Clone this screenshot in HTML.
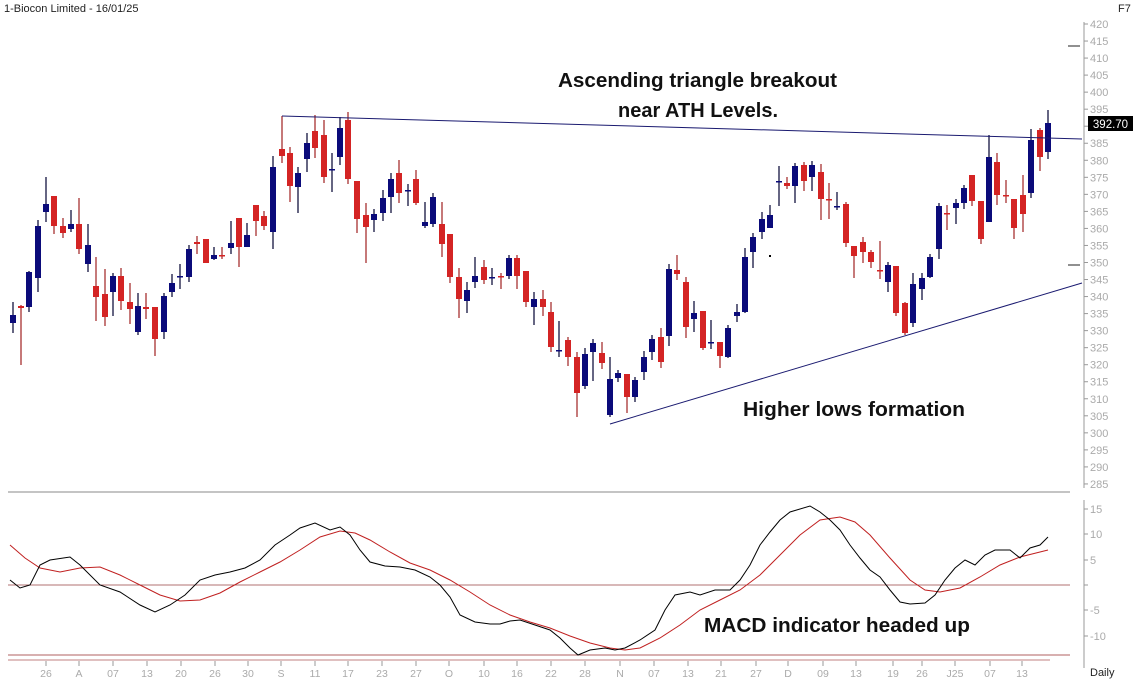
<!DOCTYPE html>
<html><head><meta charset="utf-8"><style>
html,body{margin:0;padding:0;background:#fff;width:1136px;height:680px;overflow:hidden}
svg{display:block}
text{font-family:"Liberation Sans",sans-serif}
</style></head><body>
<svg id="s" width="1136" height="680" viewBox="0 0 1136 680" xmlns="http://www.w3.org/2000/svg">
<rect width="1136" height="680" fill="#fff"/>
<text x="4" y="12" font-size="11" fill="#222">1-Biocon Limited - 16/01/25</text>
<text x="1118" y="12" font-size="11" fill="#222">F7</text>
<g id="axis"></g>
<g id="candles"></g>
<line x1="282" y1="116" x2="1082" y2="139" stroke="#1a1a70" stroke-width="1"/>
<line x1="610" y1="424" x2="1082" y2="283" stroke="#1a1a70" stroke-width="1"/>
<line x1="1068" y1="46" x2="1080" y2="46" stroke="#222"/>
<line x1="1068" y1="265" x2="1080" y2="265" stroke="#222"/>
<rect x="1088" y="116" width="45" height="15" fill="#000"/>
<text x="1110.5" y="128" font-size="11.5" fill="#fff" text-anchor="middle">392.70</text>
<line x1="8" y1="492" x2="1070" y2="492" stroke="#888" stroke-width="1"/>
<line x1="8" y1="585" x2="1070" y2="585" stroke="#b07070" stroke-width="1"/>
<line x1="8" y1="655" x2="1070" y2="655" stroke="#b06060" stroke-width="1"/>
<line x1="8" y1="660" x2="1050" y2="660" stroke="#c08080" stroke-width="1"/>
<polyline id="sig" fill="none" stroke="#c02020" stroke-width="1"/>
<polyline id="macd" fill="none" stroke="#000" stroke-width="1"/>
<text x="558" y="87" font-size="20" font-weight="bold" fill="#111" textLength="279" lengthAdjust="spacingAndGlyphs">Ascending triangle breakout</text>
<text x="618" y="117" font-size="20" font-weight="bold" fill="#111" textLength="160" lengthAdjust="spacingAndGlyphs">near ATH Levels.</text>
<text x="743" y="416" font-size="20" font-weight="bold" fill="#111" textLength="222" lengthAdjust="spacingAndGlyphs">Higher lows formation</text>
<text x="704" y="632" font-size="20" font-weight="bold" fill="#111" textLength="266" lengthAdjust="spacingAndGlyphs">MACD indicator headed up</text>
<text x="1090" y="676" font-size="11" fill="#222">Daily</text>
</svg>
<script>
var NS="http://www.w3.org/2000/svg";
function el(p,t,a){var e=document.createElementNS(NS,t);for(var k in a)e.setAttribute(k,a[k]);p.appendChild(e);return e;}
var ax=document.getElementById('axis');
el(ax,'line',{x1:1084,y1:22,x2:1084,y2:488,stroke:'#999'});
el(ax,'line',{x1:1084,y1:500,x2:1084,y2:668,stroke:'#999'});
for(var p=420;p>=285;p-=5){var y=24+(420-p)*3.407;el(ax,'line',{x1:1084,y1:y,x2:1088,y2:y,stroke:'#999'});
 var t=el(ax,'text',{x:1090,y:y+4,'font-size':11,fill:'#aaa'});t.textContent=p;}
var mv=[[15,509],[10,534],[5,560],[0,585],[-5,610],[-10,636]];
mv.forEach(function(m){el(ax,'line',{x1:1084,y1:m[1],x2:1088,y2:m[1],stroke:'#999'});
 if(m[0]!==0){var t=el(ax,'text',{x:1090,y:m[1]+4,'font-size':11,fill:'#aaa'});t.textContent=m[0];}});
var xl=[[46,'26'],[79,'A'],[113,'07'],[147,'13'],[181,'20'],[215,'26'],[248,'30'],[281,'S'],[315,'11'],[348,'17'],[382,'23'],[416,'27'],[449,'O'],[484,'10'],[517,'16'],[551,'22'],[585,'28'],[620,'N'],[654,'07'],[688,'13'],[721,'21'],[756,'27'],[788,'D'],[823,'09'],[856,'13'],[893,'19'],[922,'26'],[955,'J25'],[990,'07'],[1022,'13']];
xl.forEach(function(l){el(ax,'line',{x1:l[0],y1:661,x2:l[0],y2:666,stroke:'#999'});
 var t=el(ax,'text',{x:l[0],y:677,'font-size':10.5,fill:'#aaa','text-anchor':'middle'});t.textContent=l[1];});
// x, bodyTop, bodyBot, wickTop, wickBot, color(b/r)
var C=[[13,315,323,302,333,'b'],[21,306,308,305,365,'r'],[29,272,307,271,312,'b'],[38,226,278,220,292,'b'],[46,204,212,177,222,'b'],[54,196,226,196,234,'r'],[63,226,233,218,238,'r'],[71,224,229,210,232,'b'],[79,224,249,198,254,'r'],[88,245,264,224,272,'b'],[96,286,297,257,321,'r'],[105,294,317,269,326,'r'],[113,276,292,273,316,'b'],[121,276,301,268,310,'r'],[130,302,309,283,324,'r'],[138,306,332,293,335,'b'],[146,307,309,293,319,'r'],[155,307,339,307,356,'r'],[164,296,332,293,339,'b'],[172,283,292,274,297,'b'],[180,276,277,264,289,'b'],[189,249,277,245,282,'b'],[197,242,244,236,254,'r'],[206,239,263,239,263,'r'],[214,255,259,247,260,'b'],[222,255,256,247,259,'r'],[231,243,248,221,254,'b'],[239,218,247,218,267,'r'],[247,235,247,223,247,'b'],[256,205,221,205,236,'r'],[264,216,226,211,230,'r'],[273,167,232,156,249,'b'],[282,149,156,116,163,'r'],[290,153,186,147,202,'r'],[298,173,187,167,213,'b'],[307,143,159,133,172,'b'],[315,131,148,115,158,'r'],[324,135,177,120,183,'r'],[332,169,170,153,192,'b'],[340,128,157,117,165,'b'],[348,120,179,112,184,'r'],[357,181,219,181,233,'r'],[366,215,227,203,263,'r'],[374,214,220,209,232,'b'],
[383,198,213,190,221,'b'],[391,179,197,173,213,'b'],[399,173,193,160,203,'r'],[408,190,191,184,206,'b'],[416,179,203,170,205,'r'],[425,222,226,202,228,'b'],[433,197,224,193,227,'b'],[442,224,244,202,257,'r'],[450,234,277,234,283,'r'],[459,277,299,268,318,'r'],[467,290,301,282,313,'b'],[475,276,282,257,288,'b'],[484,267,280,260,284,'r'],[492,277,278,268,285,'b'],[501,276,277,273,289,'r'],[509,258,276,255,279,'b'],[517,258,276,255,289,'r'],[526,271,302,271,307,'r'],[534,299,307,292,325,'b'],[543,299,307,290,316,'r'],[551,312,347,302,352,'r'],[559,350,351,321,357,'b'],[568,340,357,337,366,'r'],[577,357,393,352,417,'r'],[585,354,386,348,389,'b'],[593,343,352,339,381,'b'],[602,353,363,342,369,'r'],[610,379,415,357,417,'b'],[618,373,378,370,382,'b'],[627,374,397,374,413,'r'],[635,380,397,377,402,'b'],[644,357,372,351,380,'b'],[652,339,352,335,360,'b'],[661,337,362,328,368,'r'],[669,269,336,264,346,'b'],[677,270,274,255,280,'r'],[686,282,327,277,338,'r'],[694,313,319,301,332,'b'],[703,311,348,311,350,'r'],[711,342,343,320,349,'b'],[720,342,356,342,368,'r'],[728,328,357,325,358,'b'],[737,312,316,304,322,'b'],[745,257,312,248,313,'b'],
[753,237,252,233,268,'b'],[762,219,232,212,239,'b'],[770,215,228,205,228,'b'],[779,181,182,166,206,'b'],[787,183,186,177,189,'r'],[795,166,186,163,203,'b'],[804,165,181,162,191,'r'],[812,165,177,161,191,'b'],[821,172,199,164,220,'r'],[829,199,200,183,219,'r'],[837,206,207,192,210,'b'],[846,204,243,202,247,'r'],[854,246,256,246,278,'r'],[863,242,252,237,263,'r'],[871,252,262,250,268,'r'],[880,270,271,241,279,'r'],[888,265,282,262,292,'b'],[896,266,313,266,316,'r'],[905,303,333,302,335,'r'],[913,284,323,273,327,'b'],[922,278,289,273,300,'b'],[930,257,277,254,278,'b'],[939,206,249,203,259,'b'],[947,213,214,205,230,'r'],[956,203,208,199,224,'b'],[964,188,203,185,209,'b'],[972,175,201,175,206,'r'],[981,201,239,201,244,'r'],[989,157,222,135,222,'b'],[997,162,195,153,205,'r'],[1006,195,196,180,203,'r'],[1014,199,228,199,239,'r'],[1023,195,214,175,232,'r'],[1031,140,193,129,198,'b'],[1040,130,157,128,171,'r'],[1048,123,152,110,159,'b']];
var cg=document.getElementById('candles');
C.forEach(function(c){var col=c[5]=='b'?'#0b0b7a':'#d42424';var wc=c[5]=='b'?'#000030':'#a02020';
 el(cg,'line',{x1:c[0],y1:c[3],x2:c[0],y2:c[4],stroke:wc,'stroke-width':1.2});
 var h=Math.max(1.5,c[2]-c[1]);
 el(cg,'rect',{x:c[0]-3,y:c[1],width:6,height:h,fill:col});});
el(cg,'rect',{x:769,y:255,width:2,height:2,fill:'#000'});
var macd=[[10,580],[20,588],[30,585],[40,565],[50,560],[70,557],[80,565],[100,585],[120,592],[140,605],[155,612],[170,605],[185,595],[200,580],[215,575],[230,572],[245,568],[260,560],[275,545],[290,535],[300,528],[315,523],[330,530],[340,527],[350,535],[360,550],[370,562],[385,566],[400,567],[415,570],[430,577],[440,585],[450,597],[460,615],[475,622],[490,624],[500,624],[510,621],[520,620],[535,625],[550,630],[560,638],[570,648],[578,655],[590,650],[605,648],[615,650],[625,648],[640,640],[655,630],[665,610],[675,595],[690,592],[700,595],[715,590],[730,590],[740,580],[750,565],[760,545],[770,532],[780,520],[790,512],[810,506],[820,512],[830,520],[840,530],[850,545],[860,558],[870,570],[880,577],[890,590],[900,602],[910,604],[925,603],[935,595],[945,580],[955,568],[965,560],[975,565],[985,555],[995,550],[1010,550],[1020,558],[1030,548],[1040,545],[1048,537]];
var sig=[[10,545],[25,558],[40,568],[60,572],[80,568],[100,567],[120,575],[140,585],[160,595],[180,601],[200,600],[220,593],[240,582],[260,572],[280,562],[300,550],[320,537],[340,531],[355,533],[370,540],[390,552],[410,563],[430,570],[450,580],[470,592],[490,605],[510,615],[530,622],[550,628],[570,636],[590,643],[610,648],[625,650],[640,648],[660,638],[680,625],[700,610],[720,600],[740,590],[760,575],[780,555],[800,535],[820,520],[840,517],[855,522],[870,535],[890,558],[910,580],[925,590],[940,592],[960,588],[980,577],[1000,565],[1020,557],[1048,550]];
document.getElementById('macd').setAttribute('points',macd.map(function(p){return p.join(',')}).join(' '));
document.getElementById('sig').setAttribute('points',sig.map(function(p){return p.join(',')}).join(' '));
</script>
</body></html>
